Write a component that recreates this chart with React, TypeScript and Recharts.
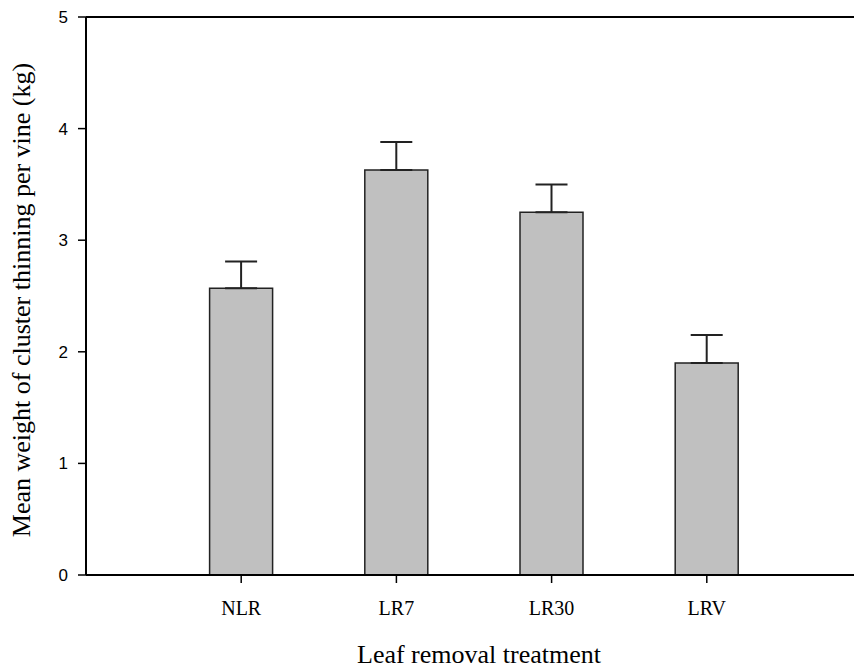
import React from 'react';
import { BarChart, Bar, XAxis, YAxis, ErrorBar, ReferenceLine } from 'recharts';

// treatments, placed at 1..4 on a 0..5 axis
const treatments = ['NLR', 'LR7', 'LR30', 'LRV'];
const positions = [1, 2, 3, 4];
const meanWeight = [2.57, 3.63, 3.25, 1.9];
const stdError = [0.24, 0.25, 0.25, 0.25];
const yTicks = [0, 1, 2, 3, 4, 5];

const data = positions.map((pos, i) => ({
  pos,
  name: treatments[i],
  weight: meanWeight[i],
  err: [0, stdError[i]],
}));

const serif = '"Liberation Serif", "Times New Roman", serif';
const sans = '"Liberation Sans", Arial, sans-serif';

const YTitle = () => (
  <text
    x={30}
    y={300}
    transform="rotate(-90 30 300)"
    textAnchor="middle"
    fontFamily={serif}
    fontSize={26}
    fill="#000"
  >
    Mean weight of cluster thinning per vine (kg)
  </text>
);

const XTitle = () => (
  <text x={479} y={663} textAnchor="middle" fontFamily={serif} fontSize={26} fill="#000">
    Leaf removal treatment
  </text>
);

const App: React.FC = () => {
  return (
    <div style={{ position: 'absolute', left: 0, top: 0, width: 854, height: 671, overflow: 'hidden', background: '#fff' }}>
      <BarChart width={880} height={671} data={data} margin={{ top: 17, right: 18, left: 0, bottom: 36 }}>
        <XAxis
          dataKey="pos"
          type="number"
          domain={[0, 5]}
          ticks={positions}
          tickFormatter={(v: number) => treatments[v - 1] ?? ''}
          height={60}
          stroke="#000"
          strokeWidth={2}
          tickSize={8}
          tickMargin={18}
          tick={{ fill: '#000', fontFamily: serif, fontSize: 20 }}
          tickLine={{ stroke: '#000', strokeWidth: 1.5 }}
          label={{ content: XTitle }}
        />
        <YAxis
          domain={[0, 5]}
          ticks={yTicks}
          width={86}
          stroke="#000"
          strokeWidth={2}
          tickSize={8}
          tickMargin={10}
          tick={{ fill: '#000', fontFamily: sans, fontSize: 17 }}
          tickLine={{ stroke: '#000', strokeWidth: 1.5 }}
          label={{ content: YTitle }}
        />
        <ReferenceLine y={5} stroke="#000" strokeWidth={2} />
        <ReferenceLine x={5} stroke="#000" strokeWidth={2} />
        <Bar dataKey="weight" fill="#c0c0c0" stroke="#222" strokeWidth={1.5} barSize={63} isAnimationActive={false}>
          <ErrorBar dataKey="err" direction="y" width={16} stroke="#222" strokeWidth={2} />
        </Bar>
      </BarChart>
    </div>
  );
};

export default App;
